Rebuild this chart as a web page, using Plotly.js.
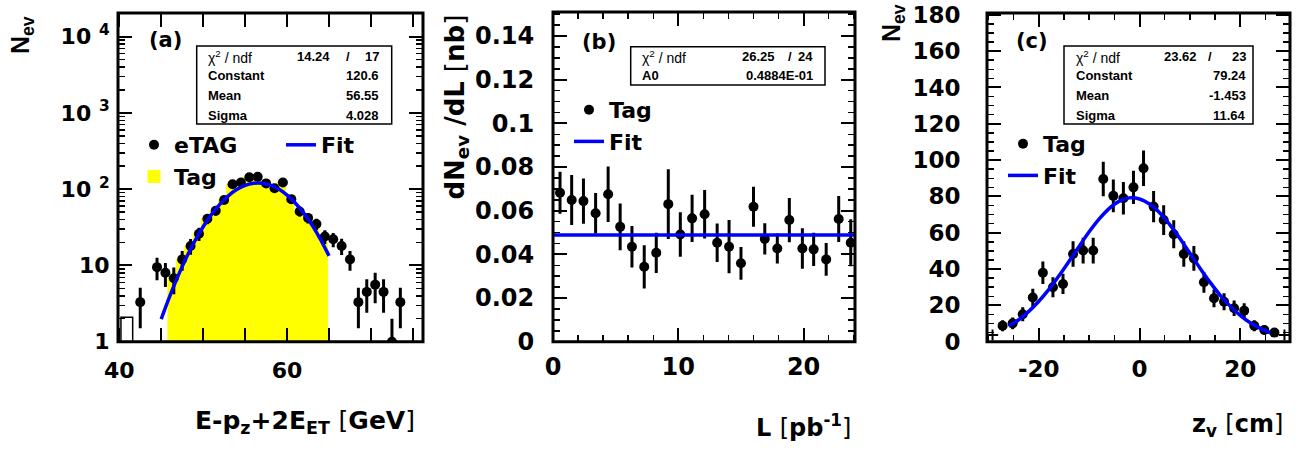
<!DOCTYPE html>
<html><head><meta charset="utf-8">
<script src="https://cdn.plot.ly/plotly-3.0.1.min.js"></script>
<style>html,body{margin:0;padding:0;background:#fff;}#chart{width:1304px;height:453px;}</style>
</head><body><div id="chart"></div>
<script>
// ---------- Panel (a): E-pz+2E_ET ----------
const aX   = [42.5,44.5,45.5,46.5,47.5,48.5,49.5,50.5,51.5,52.5,53.5,54.5,55.5,56.5,57.5,58.5,59.5,60.5,61.5,62.5,63.5,64.5,65.5,66.5,67.5,68.5,69.5,70.5,71.5,72.5,73.5];
const aY   = [3.3,9.5,8,6.8,12,18,26,41,52,72,116,122,143,145,119,103,122,74,51,42,35,24,22,18,12,3.3,4.5,5.6,4.5,1,3.3];
const aErr = [1.8,3.1,2.8,2.6,3.5,4.2,5.1,6.4,7.2,8.5,10.8,11,12,12,10.9,10.1,11,8.6,7.1,6.5,5.9,4.9,4.7,4.3,3.5,1.8,2.1,2.4,2.1,1,1.8];
const aTagX = [46.3,47.3,48.3,49.3,50.3,51.3,52.3,53.3,54.3,55.3,56.3,57.3,58.3,59.3,60.3,61.3,62.3,63.3,64.3];
const aTagY = [6.8,12,18,26,41,52,72,116,122,143,145,119,103,122,74,51,42,35,20];
const aLowX = [40.9];
const aLowY = [2.1];
const aLowW = [1.4];
const aFitX = [45,46,47,48,49,50,51,52,53,54,55,56,57,58,59,60,61,62,63,64,65];
const aFitY = [1.98,3.9,7.25,12.7,20.8,32.2,46.7,63.7,81.8,98.7,112,119.5,119.9,113,100.2,83.6,65.5,48.3,33.5,21.8,13.35];
const aYTickVals = [1,10,100,1000,10000];
const aYTickText = ['1','10','10 <sup>2</sup>','10 <sup>3</sup>','10 <sup>4</sup>'];
const aXTickVals = [40,45,50,55,60,65,70,75];
const aXTickText = ['40','','','','60','','',''];
const aStats = [['Constant','120.6'],['Mean','56.55'],['Sigma','4.028']];
const aChi = ['14.24','17'];

// ---------- Panel (b): dNev/dL ----------
const bX   = [0.56,1.49,2.43,3.4,4.4,5.36,6.3,7.28,8.24,9.2,10.16,11.1,12.1,13.1,14.05,15.0,16.0,16.9,17.9,18.86,19.9,20.8,21.8,22.8,23.76];
const bY   = [0.0682,0.0649,0.0644,0.0588,0.0675,0.0526,0.0435,0.0343,0.0407,0.063,0.0491,0.0565,0.0584,0.0453,0.0435,0.0359,0.0618,0.0471,0.0427,0.0557,0.0427,0.0423,0.0377,0.0562,0.0453];
const bErr = [0.0096,0.0114,0.0104,0.0093,0.0127,0.0107,0.0095,0.0099,0.0092,0.016,0.0102,0.0108,0.0111,0.0088,0.0122,0.0075,0.0092,0.0072,0.0069,0.0101,0.0093,0.0076,0.0075,0.0105,0.0108];
const bFitX = [0,24.1];
const bFitY = [0.04884,0.04884];
const bStats = [['A0','0.4884E-01']];
const bChi = ['26.25','24'];

// ---------- Panel (c): z vertex ----------
const cX   = [-27.2,-25.2,-23.2,-21.2,-19.2,-17.2,-15.2,-13.2,-11.2,-9.2,-7.2,-5.2,-3.2,-1.2,0.8,2.8,4.8,6.8,8.8,10.8,12.8,14.8,16.8,18.8,20.8,22.8,24.8,26.8];
const cY   = [8.8,10.1,15.1,24.3,38,30,31.8,48.3,50.2,50.2,89.6,80.3,79,85,95.5,74.4,67,59.2,48.3,45.9,32.7,23.9,22,18.4,17.1,8.8,6.4,5.0];
const cErr = [3,3.2,3.9,4.9,6.2,5.5,5.6,7,7.1,7.1,9.5,9,8.9,9.2,9.8,8.6,8.2,7.7,7,6.8,5.7,4.9,4.7,4.3,4.1,3,2.5,2.2];
const cEdgeX = [-29.2,28.8];
const cEdgeY = [3.7,3.7];
const cFitX = [-26,-24,-22,-20,-18,-16,-14,-12,-10,-8,-6,-4,-2,0,2,4,6,8,10,12,14,16,18,20,22,24,26];
const cFitY = [8.6,12.1,16.7,22.3,28.8,36.3,44.3,52.5,60.5,67.6,73.4,77.4,79.2,78.6,75.8,71.0,64.5,57.0,48.8,40.6,32.8,25.7,19.6,14.5,10.4,7.3,4.9];
const cXTickVals = [-20,0,20];
const cXTickText = ['-20','0','20'];
const cStats = [['Constant','79.24'],['Mean','-1.453'],['Sigma','11.64']];
const cChi = ['23.62','23'];

// ---------- helpers ----------
const W = 1304, H = 453;
const px = v => v / W;
const py = v => 1 - v / H;
const FF = 'Liberation Sans, Arial, Helvetica, sans-serif';
const FW = 'DejaVu Sans, Verdana, sans-serif';
const BLK = 'black', BLUE = '#0000ff';

function errMarkers(x, y, e, name, xa, ya, leg) {
  return {type:'scatter', mode:'markers', x:x, y:y, xaxis:xa, yaxis:ya, name:name, legend:leg, legendrank:1,
    marker:{color:BLK, size:10},
    error_y:{type:'data', array:e, visible:true, thickness:3, width:0, color:BLK},
    cliponaxis:true};
}
function fitLine(x, y, xa, ya, leg, shape) {
  return {type:'scatter', mode:'lines', x:x, y:y, xaxis:xa, yaxis:ya, name:'Fit', legend:leg, legendrank:2,
    line:{color:BLUE, width:3.5, shape:shape}};
}

const traces = [
  {type:'bar', x:aTagX, y:aTagY, width:1, xaxis:'x', yaxis:'y', name:'Tag', legend:'legend', legendrank:2,
   marker:{color:'#ffff00', line:{width:1, color:'#ffff00'}}},
  {type:'bar', x:aLowX, y:aLowY, width:aLowW, xaxis:'x', yaxis:'y', showlegend:false,
   marker:{color:'white', line:{color:BLK, width:1.5}}},
  errMarkers(aX, aY, aErr, 'eTAG', 'x', 'y', 'legend'),
  fitLine(aFitX, aFitY, 'x', 'y', 'legend2', 'spline'),
  errMarkers(bX, bY, bErr, 'Tag', 'x2', 'y2', 'legend3'),
  fitLine(bFitX, bFitY, 'x2', 'y2', 'legend3', 'linear'),
  {type:'scatter', mode:'markers', x:cEdgeX, y:cEdgeY, xaxis:'x3', yaxis:'y3', showlegend:false,
   marker:{symbol:'cross-thin', size:8, line:{color:BLK, width:2}}},
  errMarkers(cX, cY, cErr, 'Tag', 'x3', 'y3', 'legend4'),
  fitLine(cFitX, cFitY, 'x3', 'y3', 'legend4', 'spline')
];

const MINOR = {ticks:'inside', ticklen:7, tickwidth:1.5, tickcolor:BLK};
function axisBase(extra) {
  return Object.assign({showline:true, mirror:'ticks', ticks:'inside',
    tickwidth:2, tickcolor:BLK, showgrid:false, zeroline:false}, extra);
}
function tf(size, fam) { return {family:fam || FW, size:size, color:BLK, weight:'bold'}; }

const yDomA = [py(341.7), py(13)];
const yDomB = [py(341.7), py(12)];

const layout = {
  width:W, height:H, margin:{l:0, r:0, t:0, b:0}, paper_bgcolor:'white', plot_bgcolor:'white',
  barmode:'overlay', showlegend:true, font:{family:FF, color:BLK},
  xaxis: axisBase({domain:[px(118), px(423)], anchor:'y', range:[39.85, 76.2], tickmode:'array',
    tickvals:aXTickVals, ticktext:aXTickText, ticklen:14, tickfont:tf(22), ticklabelstandoff:9}),
  yaxis: axisBase({domain:yDomA, anchor:'x', type:'log', range:[0, 4.31], tickmode:'array',
    tickvals:aYTickVals, ticktext:aYTickText, ticklen:14, tickfont:tf(22), ticklabelstandoff:3,
    minor:Object.assign({dtick:'D1'}, MINOR)}),
  xaxis2: axisBase({domain:[px(553), px(855)], anchor:'y2', range:[0, 24.1], tick0:0, dtick:10, ticklen:14,
    tickfont:tf(24), ticklabelstandoff:3, minor:Object.assign({tick0:0, dtick:2}, MINOR)}),
  yaxis2: axisBase({domain:yDomB, anchor:'x2', range:[0, 0.151], tick0:0, dtick:0.02, ticklen:14,
    tickfont:tf(24), ticklabelstandoff:13, minor:Object.assign({tick0:0, dtick:0.005}, MINOR)}),
  xaxis3: axisBase({domain:[px(987), px(1290)], anchor:'y3', range:[-30.3, 29.9], tickmode:'array',
    tickvals:cXTickVals, ticktext:cXTickText, ticklen:14, tickfont:tf(23), ticklabelstandoff:7,
    minor:Object.assign({tick0:0, dtick:5}, MINOR)}),
  yaxis3: axisBase({domain:yDomA, anchor:'x3', range:[0, 181], tick0:0, dtick:20, ticklen:14,
    tickfont:tf(23), ticklabelstandoff:21, minor:Object.assign({tick0:0, dtick:5}, MINOR)}),
  legend:  {x:px(134), xanchor:'left', y:py(124), yanchor:'top', bgcolor:'rgba(0,0,0,0)', font:tf(22), tracegroupgap:0, traceorder:'normal'},
  legend2: {x:px(281), xanchor:'left', y:py(124), yanchor:'top', bgcolor:'rgba(0,0,0,0)', font:tf(22), tracegroupgap:0},
  legend3: {x:px(569), xanchor:'left', y:py(89),  yanchor:'top', bgcolor:'rgba(0,0,0,0)', font:tf(22), tracegroupgap:0, traceorder:'normal'},
  legend4: {x:px(1003), xanchor:'left', y:py(123), yanchor:'top', bgcolor:'rgba(0,0,0,0)', font:tf(22), tracegroupgap:0, traceorder:'normal'},
  shapes: [], annotations: []
};

// thick ROOT-style frames on each subplot's plotting area
[['x','y'],['x2','y2'],['x3','y3']].forEach(p => {
  layout.shapes.push({type:'rect', xref:p[0] + ' domain', yref:p[1] + ' domain', x0:0, x1:1, y0:0, y1:1,
    line:{color:BLK, width:3}, fillcolor:'rgba(0,0,0,0)', layer:'above'});
});

function ann(text, x, y, opts) {
  layout.annotations.push(Object.assign({text:text, x:px(x), y:py(y), xref:'paper', yref:'paper',
    showarrow:false, xanchor:'left', yanchor:'middle', font:tf(13, FF)}, opts || {}));
}
function statBox(x0, x1, y0, y1, chi, rows, rowYs, labelX, chiEnd, slashX, valEnd) {
  layout.shapes.push({type:'rect', xref:'paper', yref:'paper', x0:px(x0), x1:px(x1), y0:py(y0), y1:py(y1),
    line:{color:BLK, width:1.5}, fillcolor:'white', layer:'above'});
  ann('χ<sup>2</sup> / ndf', labelX, rowYs[0], {font:{family:FF, size:14, color:BLK, weight:'normal'}});
  ann(chi[0], chiEnd, rowYs[0], {xanchor:'right'});
  ann('/', slashX, rowYs[0], {xanchor:'center'});
  ann(chi[1], valEnd, rowYs[0], {xanchor:'right'});
  rows.forEach((r, i) => {
    ann(r[0], labelX, rowYs[i + 1]);
    ann(r[1], valEnd, rowYs[i + 1], {xanchor:'right'});
  });
}
statBox(196.7, 391.7, 46, 124, aChi, aStats, [57,76,96,116], 206, 332, 348, 381);
statBox(630.7, 825, 46.7, 85, bChi, bStats, [57,76], 640, 777, 790, 815);
statBox(1064, 1253, 46, 124, cChi, cStats, [57,76,96,116], 1074, 1199, 1210, 1248);

// panel labels
ann('(a)', 165, 40, {xanchor:'center', font:tf(21)});
ann('(b)', 599, 42, {xanchor:'center', font:tf(21)});
ann('(c)', 1032, 41, {xanchor:'center', font:tf(21)});

// axis titles
const BR = s => '<span style="font-weight:normal">' + s + '</span>';
ann('N<sub>ev</sub>', 22, 14, {xanchor:'center', yanchor:'top', textangle:-90, font:tf(25, FF)});
ann('dN<sub>ev</sub> /dL ' + BR('[') + 'nb' + BR(']'), 456, 13, {xanchor:'center', yanchor:'top', textangle:-90, font:tf(26)});
ann('N<sub>ev</sub>', 893, 2, {xanchor:'center', yanchor:'top', textangle:-90, font:tf(25, FF)});
ann('E-p<sub>z</sub>+2E<sub>ET</sub> ' + BR('[') + 'GeV' + BR(']'), 417, 422, {xanchor:'right', font:tf(25)});
ann('L ' + BR('[') + 'pb<sup>-1</sup>' + BR(']'), 853, 426, {xanchor:'right', font:tf(24)});
ann('z<sub>v</sub> ' + BR('[') + 'cm' + BR(']'), 1285, 425, {xanchor:'right', font:tf(24)});

Plotly.newPlot('chart', traces, layout, {staticPlot:true, displayModeBar:false});
</script></body></html>
